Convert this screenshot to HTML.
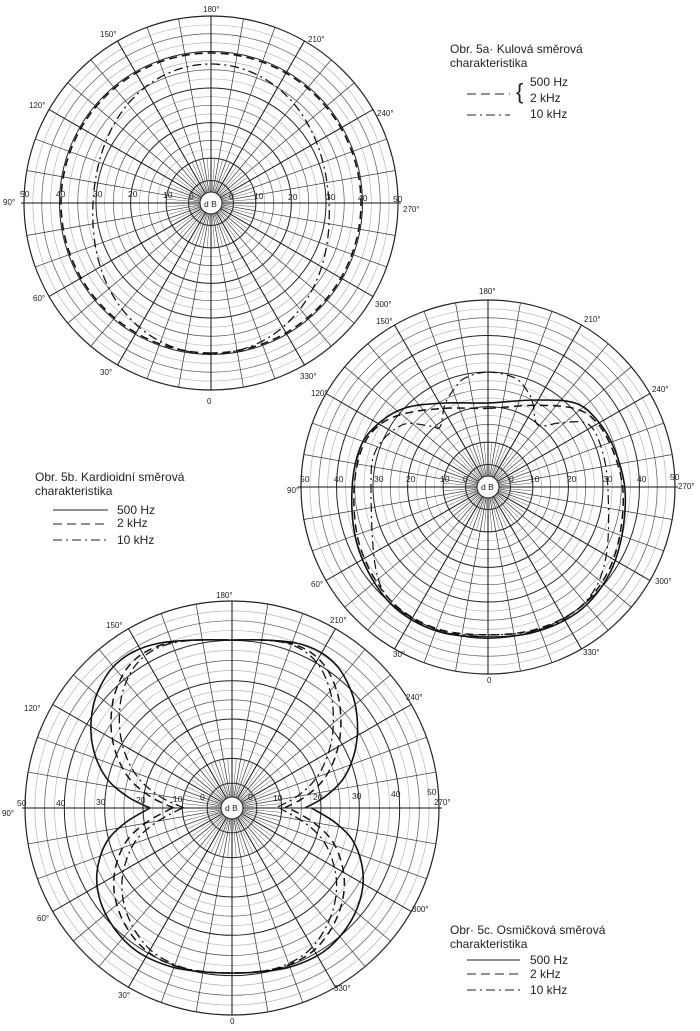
<!DOCTYPE html>
<html><head><meta charset="utf-8"><style>
html,body{margin:0;padding:0;background:#fff;}
svg{display:block;}
text{font-family:"Liberation Sans",sans-serif;fill:#222;}
.g{font-size:8.5px;}
.d{font-size:8px;}
.l{font-size:12px;}
</style></head><body>
<svg id="s" width="700" height="1031" viewBox="0 0 700 1031" xmlns="http://www.w3.org/2000/svg">
<g id="grid"></g>
<g id="curves" fill="none" stroke="#111"></g>
<g id="labels">
<text class="g" x="20" y="197">50</text><text class="g" x="56" y="197">40</text><text class="g" x="93" y="197">30</text><text class="g" x="128" y="197">20</text><text class="g" x="163" y="198">10</text><text class="g" x="189" y="199">0</text>
<text class="g" x="229" y="199">0</text><text class="g" x="254" y="199">10</text><text class="g" x="288" y="200">20</text><text class="g" x="326" y="200">30</text><text class="g" x="358" y="201">40</text><text class="g" x="393" y="202">50</text>
<text class="d" x="3" y="205">90°</text><text class="d" x="403" y="212">270°</text><text class="d" x="203" y="12">180°</text><text class="d" x="207" y="404">0</text>
<text class="d" x="100" y="37">150°</text><text class="d" x="308" y="42">210°</text><text class="d" x="29" y="108">120°</text><text class="d" x="377" y="116">240°</text>
<text class="d" x="33" y="301">60°</text><text class="d" x="375" y="307">300°</text><text class="d" x="100" y="375">30°</text><text class="d" x="300" y="379">330°</text>
<text class="g" x="204" y="207">d B</text>
<text class="g" x="300" y="482">50</text><text class="g" x="334" y="482">40</text><text class="g" x="374" y="482">30</text><text class="g" x="406" y="482">20</text><text class="g" x="440" y="482">10</text><text class="g" x="463" y="482">0</text>
<text class="g" x="509" y="482">0</text><text class="g" x="530" y="482">10</text><text class="g" x="567" y="482">20</text><text class="g" x="603" y="482">30</text><text class="g" x="637" y="482">40</text><text class="g" x="670" y="480">50</text>
<text class="d" x="287" y="493">90°</text><text class="d" x="678" y="489">270°</text><text class="d" x="479" y="294">180°</text><text class="d" x="584" y="322">210°</text>
<text class="d" x="376" y="324">150°</text><text class="d" x="311" y="396">120°</text><text class="d" x="652" y="392">240°</text><text class="d" x="311" y="587">60°</text>
<text class="d" x="655" y="584">300°</text><text class="d" x="393" y="657">30°</text><text class="d" x="583" y="655">330°</text><text class="d" x="487" y="683">0</text>
<text class="g" x="481" y="490">d B</text>
<text class="g" x="17" y="806">50</text><text class="g" x="56" y="806">40</text><text class="g" x="96" y="805">30</text><text class="g" x="136" y="803">20</text><text class="g" x="173" y="802">10</text><text class="g" x="200" y="800">0</text>
<text class="g" x="248" y="800">0</text><text class="g" x="273" y="801">10</text><text class="g" x="313" y="800">20</text><text class="g" x="352" y="799">30</text><text class="g" x="391" y="797">40</text><text class="g" x="427" y="795">50</text>
<text class="d" x="2" y="816">90°</text><text class="d" x="434" y="805">270°</text><text class="d" x="216" y="598">180°</text><text class="d" x="330" y="623">210°</text>
<text class="d" x="106" y="628">150°</text><text class="d" x="24" y="711">120°</text><text class="d" x="406" y="700">240°</text><text class="d" x="37" y="921">60°</text>
<text class="d" x="412" y="912">300°</text><text class="d" x="118" y="998">30°</text><text class="d" x="334" y="991">330°</text><text class="d" x="230" y="1024">0</text>
<text class="g" x="225" y="811">d B</text>
<text class="l" x="450" y="53">Obr. 5a· Kulová směrová</text>
<text class="l" x="450" y="67">charakteristika</text>
<text class="l" x="516" y="99" style="font-size:22px">{</text>
<text class="l" x="530" y="86">500 Hz</text><text class="l" x="530" y="102">2 kHz</text><text class="l" x="530" y="118">10 kHz</text>
<text class="l" x="35" y="481">Obr. 5b. Kardioidní směrová</text>
<text class="l" x="35" y="495">charakteristika</text>
<text class="l" x="117" y="514">500 Hz</text><text class="l" x="117" y="527">2 kHz</text><text class="l" x="117" y="544">10 kHz</text>
<text class="l" x="450" y="934">Obr· 5c. Osmičková směrová</text>
<text class="l" x="450" y="948">charakteristika</text>
<text class="l" x="530" y="964">500 Hz</text><text class="l" x="530" y="978">2 kHz</text><text class="l" x="530" y="994">10 kHz</text>
</g>
<g stroke="#222" stroke-width="1.1" fill="none">
<line x1="467" y1="94" x2="510" y2="94" stroke-dasharray="9,5"/>
<line x1="467" y1="115" x2="510" y2="115" stroke-dasharray="9,4,2,4"/>
<line x1="53" y1="510" x2="108" y2="510"/>
<line x1="53" y1="524" x2="108" y2="524" stroke-dasharray="9,5"/>
<line x1="53" y1="540" x2="108" y2="540" stroke-dasharray="9,4,2,4"/>
<line x1="467" y1="960" x2="520" y2="960"/>
<line x1="467" y1="974" x2="520" y2="974" stroke-dasharray="9,5"/>
<line x1="467" y1="990" x2="520" y2="990" stroke-dasharray="9,4,2,4"/>
</g>
</svg>
<script>
var NS="http://www.w3.org/2000/svg";
var G=document.getElementById("grid"),C=document.getElementById("curves");
function el(p,tag,a){var e=document.createElementNS(NS,tag);for(var k in a)e.setAttribute(k,a[k]);p.appendChild(e);return e;}
function grid(cx,cy,R){
  var maj=[0.12,0.24,0.43,0.615,0.81,1.0];
  for(var i=1;i<maj.length-1;i++){var a=maj[i],b=maj[i+1];
    for(var j=1;j<4;j++){var t=a+(b-a)*j/4;el(G,"circle",{cx:cx,cy:cy,r:t*R,fill:"none",stroke:j==2?"#555":"#aaa","stroke-width":j==2?0.7:0.6});}}
  maj.forEach(function(f){el(G,"circle",{cx:cx,cy:cy,r:f*R,fill:"none",stroke:"#222","stroke-width":f==1?1.2:1});});
  for(var d=0;d<360;d+=5){var a=d*Math.PI/180,s=Math.sin(a),c=Math.cos(a);
    var r0=11,r1=(d%10==0)?R:0.24*R;
    el(G,"line",{x1:cx-r0*s,y1:cy+r0*c,x2:cx-r1*s,y2:cy+r1*c,stroke:(d%30==0)?"#111":(d%10==0?"#333":"#555"),"stroke-width":(d%30==0)?1:(d%10==0?0.7:0.5)});}
  el(G,"line",{x1:cx-R-3,y1:cy,x2:cx+R+3,y2:cy,stroke:"#111","stroke-width":1.1});
  el(G,"circle",{cx:cx,cy:cy,r:11,fill:"#fff",stroke:"#222","stroke-width":1});
}
grid(211,203,187);
grid(488,487,187);
grid(232,808,207);
function polar(cx,cy,fn,dash,w){var p="";for(var d=0;d<=360;d+=1){var a=d*Math.PI/180,r=fn(d);p+=(d?"L":"M")+(cx-r*Math.sin(a)).toFixed(1)+","+(cy+r*Math.cos(a)).toFixed(1);}
  var o={d:p+"Z","stroke-width":w||1.3};if(dash)o["stroke-dasharray"]=dash;el(C,"path",o);}
var DA="8,5",DD="9,4,2,4";
polar(211,203,function(d){return 150;},DA,1.6);
polar(211,203,function(d){var a=d*Math.PI/180;return 131.5+6*Math.cos(a)+13.5*Math.cos(2*a);},DD,1.3);
function cr(pts,dash,w,open){var n=pts.length,p="M"+pts[0][0].toFixed(1)+","+pts[0][1].toFixed(1);
  var m=open?n-1:n;
  for(var i=0;i<m;i++){var p0=pts[open?Math.max(i-1,0):(i-1+n)%n],p1=pts[i],p2=pts[(i+1)%n],p3=pts[open?Math.min(i+2,n-1):(i+2)%n];
    var c1=[p1[0]+(p2[0]-p0[0])/6,p1[1]+(p2[1]-p0[1])/6],c2=[p2[0]-(p3[0]-p1[0])/6,p2[1]-(p3[1]-p1[1])/6];
    p+="C"+c1[0].toFixed(1)+","+c1[1].toFixed(1)+" "+c2[0].toFixed(1)+","+c2[1].toFixed(1)+" "+p2[0].toFixed(1)+","+p2[1].toFixed(1);}
  var o={d:p,"stroke-width":w||1.3};if(dash)o["stroke-dasharray"]=dash;el(C,"path",o);}
/* figure-8 */
var cx=232,cy=808;
var upL=[[150,808],[128,797],[108,780],[96,758],[91,733],[93,707],[100,687],[113,667],[133,652],[160,643],[195,640],[232,640]];
var loL=[[150,808],[125,823],[106,843],[97,872],[100,900],[114,928],[138,952],[172,967],[205,972],[232,973]];
function lobe(half,sR,sx,dash,w,pinchShift){
  var L=half.map(function(q,i){var k=1-i/(half.length-1);return [cx+(q[0]-cx)*sx+ (pinchShift||0)*Math.pow(k,3),q[1]];});
  var R=half.slice().reverse().slice(1).map(function(q,i,arr){var k=1-(arr.length-1-i)/(half.length-1);k=(arr.length-1-i)/(half.length-1);var kk=Math.pow(1-((half.length-2-i)/(half.length-1)),0);return null;});
  var Rp=[];for(var i=half.length-2;i>=0;i--){var q=half[i],kk=1-i/(half.length-1);Rp.push([cx-(q[0]-cx)*sx*sR-(pinchShift||0)*Math.pow(kk,3)*sR,q[1]]);}
  cr(L.concat(Rp),dash,w,true);
}
lobe(upL,0.89,1,null,1.6,0);
lobe(loL,0.97,1,null,1.6,0);
lobe(upL,0.9,0.88,DA,1.5,14);
lobe(loL,0.95,0.9,DA,1.5,14);
lobe(upL,0.9,0.83,DD,1.3,20);
lobe(loL,0.95,0.85,DD,1.3,20);
/* cardioid */
var sol=[[488,403],[535,400],[575,403],[597,420],[614,448],[625,490],[621,540],[606,580],[578,612],[535,632],[488,637],[440,632],[400,612],[374,582],[356,540],[352,490],[360,448],[378,424],[405,408],[445,403]];
cr(sol,null,1.6);
var dsh=sol.map(function(q){var x=488+(q[0]-488)*0.985,y=487+(q[1]-487)*0.985;if(q[1]<410)y+=4;return [x,y];});
cr(dsh,DA,1.5);
var dd=[[488,372],[515,378],[528,392],[533,404],[538,425],[560,423],[588,424],[602,450],[608,490],[606,557],[587,600],[545,628],[488,635],[435,630],[395,605],[376,570],[371,490],[376,450],[402,425],[430,426],[440,427],[445,404],[455,388],[465,378]];
cr(dd,DD,1.2);
</script>
</body></html>
